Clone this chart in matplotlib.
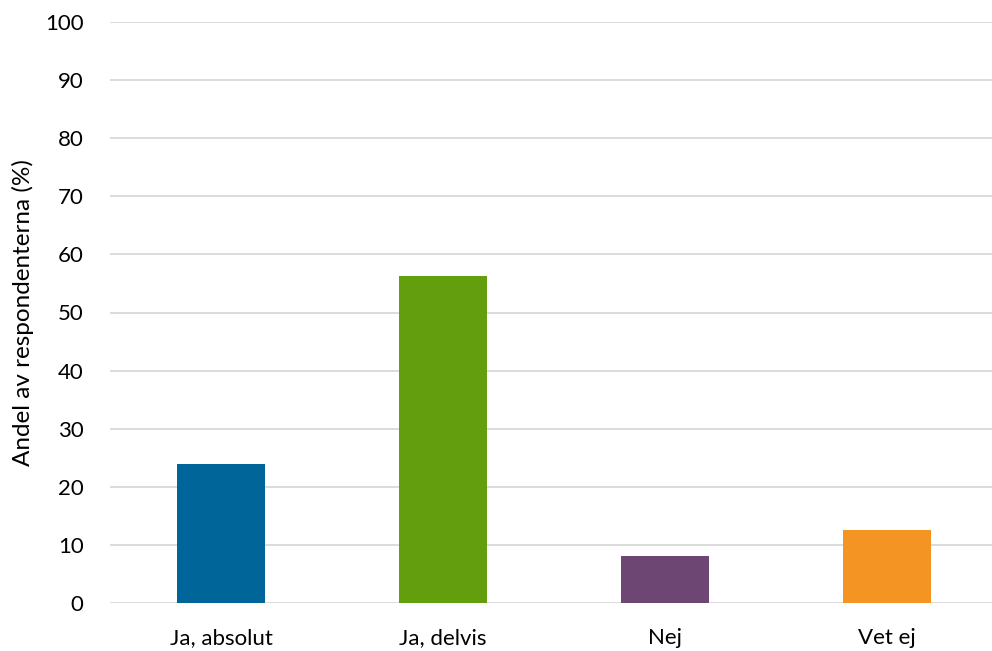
import matplotlib
matplotlib.use("Agg")
import matplotlib.pyplot as plt

kategorier = ["Ja, absolut", "Ja, delvis", "Nej", "Vet ej"]
andel = [24, 56.2, 8.1, 12.6]
farger = ["#006699", "#639E0E", "#6D4673", "#F49422"]
yticks = list(range(0, 101, 10))

plt.rcParams['font.family'] = ['Lato', 'DejaVu Sans']

fig = plt.figure(figsize=(9.92, 6.51), dpi=100)
ax = fig.add_axes([110 / 992, 1 - 603 / 651, 888 / 992, 581 / 651])

x = range(len(kategorier))
ax.bar(x, andel, width=0.4, color=farger, zorder=3)

ax.set_xlim(-0.5, 3.5)
ax.set_ylim(0, 100)
ax.set_yticks(yticks)
ax.set_xticks(list(x))
ax.set_xticklabels(kategorier)
ax.tick_params(axis='both', length=0, labelsize=16, colors='black')
ax.tick_params(axis='y', pad=19)
ax.tick_params(axis='x', pad=18)
ax.grid(axis='y', color='#d9d9d9', linewidth=1.3, zorder=0)
for s in ax.spines.values():
    s.set_visible(False)

ax.set_ylabel("Andel av respondenterna (%)", fontsize=17.5)
ax.yaxis.set_label_coords(-76 / 888, 0.5)

fig.savefig("out.png", dpi=100)
